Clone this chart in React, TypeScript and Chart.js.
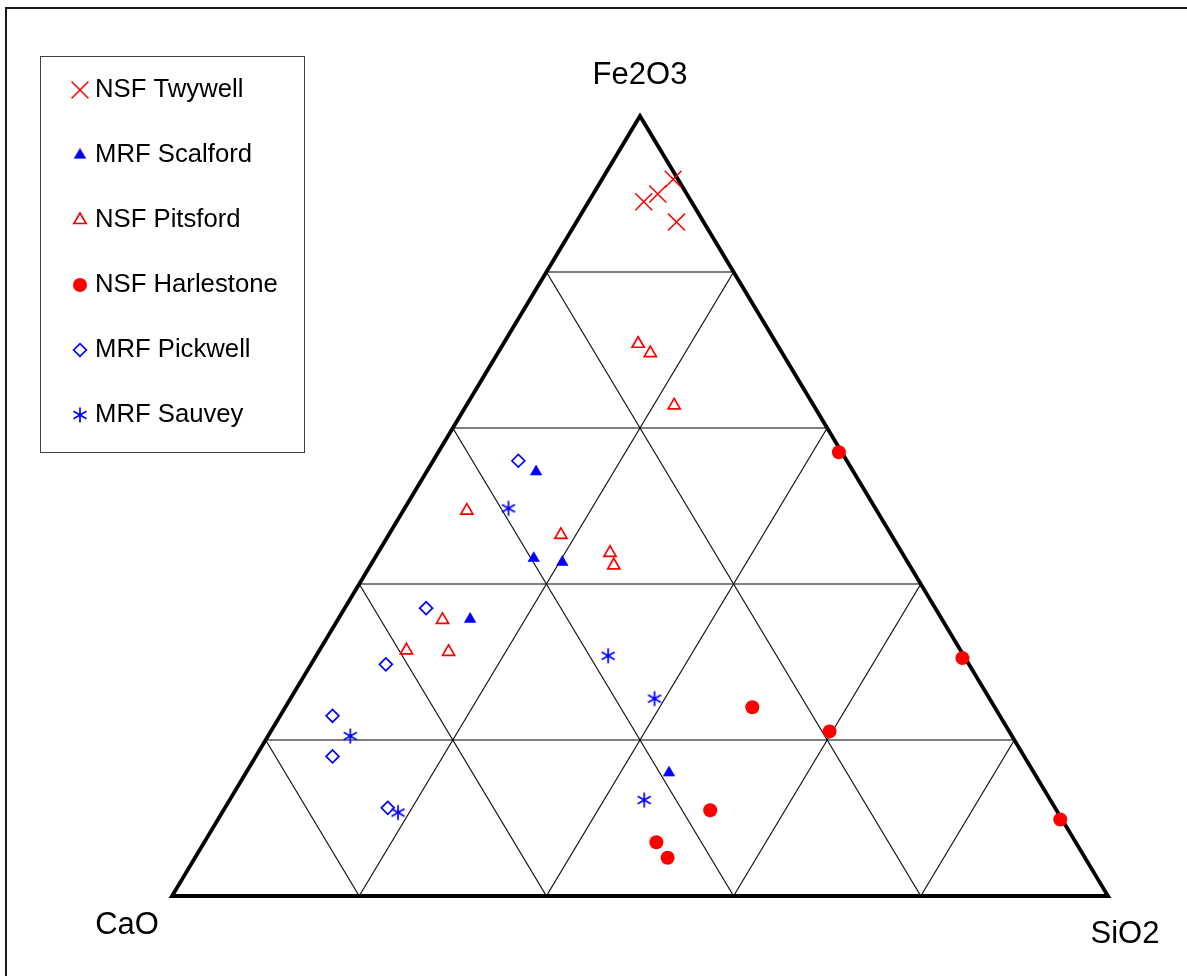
import React, { useEffect, useRef } from 'react';
import { Chart, registerables } from 'chart.js';
import { drawPoint } from 'chart.js/helpers';

Chart.register(...registerables);

// Apex labels: [left vertex, right vertex, top vertex]
const AXIS_LABELS = ['CaO', 'SiO2', 'Fe2O3'];
// Grid fractions for the ternary grid
const GRID_STEPS = [0.2, 0.4, 0.6, 0.8];

// Compositions in %, as [CaO, SiO2, Fe2O3]
const nsfTwywell = [
  [0.5, 7.6, 91.9],
  [3.1, 6.9, 90.0],
  [5.1, 5.9, 89.0],
  [2.9, 10.7, 86.4],
];
const mrfScalford = [
  [33.9, 11.7, 54.4],
  [39.7, 17.0, 43.3],
  [36.9, 20.3, 42.8],
  [50.4, 14.1, 35.5],
  [39.0, 45.2, 15.8],
];
const nsfPitsford = [
  [14.8, 14.4, 70.8],
  [14.1, 16.3, 69.6],
  [14.9, 22.2, 62.9],
  [43.8, 6.8, 49.4],
  [35.3, 18.4, 46.3],
  [31.2, 24.8, 44.0],
  [31.6, 26.0, 42.4],
  [53.4, 11.2, 35.4],
  [59.2, 9.3, 31.5],
  [54.8, 13.9, 31.3],
];
const nsfHarlestone = [
  [0.3, 42.8, 56.9],
  [0.3, 69.2, 30.5],
  [25.9, 49.9, 24.2],
  [19.2, 59.7, 21.1],
  [37.0, 52.0, 11.0],
  [44.8, 48.3, 6.9],
  [44.6, 50.5, 4.9],
  [0.2, 90.0, 9.8],
];
const mrfPickwell = [
  [35.1, 9.1, 55.8],
  [54.4, 8.7, 36.9],
  [62.3, 8.0, 29.7],
  [71.3, 5.6, 23.1],
  [73.9, 8.2, 17.9],
  [71.3, 17.4, 11.3],
];
const mrfSauvey = [
  [39.2, 11.1, 49.7],
  [38.0, 31.2, 30.8],
  [35.8, 38.9, 25.3],
  [70.7, 8.8, 20.5],
  [70.5, 18.8, 10.7],
  [43.4, 44.3, 12.3],
];

const SERIES_NAMES = [
  'NSF Twywell',
  'MRF Scalford',
  'NSF Pitsford',
  'NSF Harlestone',
  'MRF Pickwell',
  'MRF Sauvey',
];

const RED = '#ff0000';
const BLUE = '#0000ff';
const FONT = '"Liberation Sans", Arial, sans-serif';

// ternary fractions (c, s, f) -> cartesian in [0,1]
function toXY(c: number, s: number, f: number) {
  const sum = c + s + f;
  const S = s / sum;
  const F = f / sum;
  return { x: S + F / 2, y: F };
}

function makeAsterisk(color: string) {
  const cv = document.createElement('canvas');
  cv.width = 20;
  cv.height = 20;
  const ctx = cv.getContext('2d')!;
  ctx.strokeStyle = color;
  ctx.lineWidth = 1.7;
  const r = 7.5;
  const cx = 10;
  const cy = 10;
  ctx.beginPath();
  for (let k = 0; k < 3; k++) {
    const a = Math.PI / 2 + (k * Math.PI) / 3;
    ctx.moveTo(cx - Math.cos(a) * r, cy - Math.sin(a) * r);
    ctx.lineTo(cx + Math.cos(a) * r, cy + Math.sin(a) * r);
  }
  ctx.stroke();
  return cv;
}

export default function App() {
  const ref = useRef<HTMLCanvasElement | null>(null);

  useEffect(() => {
    if (!ref.current) return;
    const asterisk = makeAsterisk(BLUE);

    const pts = (arr: number[][]) => arr.map((p) => toXY(p[0], p[1], p[2]));

    const seriesDefs = [
      { data: nsfTwywell, pointStyle: 'crossRot', radius: 12, bg: 'rgba(0,0,0,0)', border: RED, bw: 1.5 },
      { data: mrfScalford, pointStyle: 'triangle', radius: 6.6, bg: BLUE, border: BLUE, bw: 0.6 },
      { data: nsfPitsford, pointStyle: 'triangle', radius: 7, bg: 'rgba(255,255,255,0)', border: RED, bw: 1.7 },
      { data: nsfHarlestone, pointStyle: 'circle', radius: 7, bg: RED, border: RED, bw: 0 },
      { data: mrfPickwell, pointStyle: 'rectRot', radius: 6.4, bg: 'rgba(255,255,255,0)', border: BLUE, bw: 1.7 },
      { data: mrfSauvey, pointStyle: asterisk as any, radius: 7.5, bg: BLUE, border: BLUE, bw: 1.5 },
    ];

    const markerSets: any[] = seriesDefs.map((d, i) => ({
      label: SERIES_NAMES[i],
      data: pts(d.data),
      showLine: false,
      pointStyle: d.pointStyle,
      pointRadius: d.radius,
      pointBackgroundColor: d.bg,
      pointBorderColor: d.border,
      pointBorderWidth: d.bw,
      clip: false,
      order: 0,
    }));

    // grid lines
    const gridSets: any[] = [];
    GRID_STEPS.forEach((g) => {
      // constant Fe2O3
      gridSets.push([toXY(1 - g, 0, g), toXY(0, 1 - g, g)]);
      // constant SiO2
      gridSets.push([toXY(1 - g, g, 0), toXY(0, g, 1 - g)]);
      // constant CaO
      gridSets.push([toXY(g, 1 - g, 0), toXY(g, 0, 1 - g)]);
    });
    const gridDatasets = gridSets.map((d) => ({
      label: '',
      data: d,
      showLine: true,
      borderColor: '#000000',
      borderWidth: 1.1,
      pointRadius: 0,
      clip: false,
      order: 2,
    }));

    const outline = [
      toXY(0.5, 0.5, 0),
      toXY(0, 1, 0),
      toXY(0, 0, 1),
      toXY(1, 0, 0),
      toXY(0.5, 0.5, 0),
    ];
    const outlineSet = {
      label: '',
      data: outline,
      showLine: true,
      borderColor: '#000000',
      borderWidth: 3.8,
      borderJoinStyle: 'miter',
      pointRadius: 0,
      clip: false,
      order: 1,
    };

    const decor = {
      id: 'decor',
      afterDraw(chart: any) {
        const ctx = chart.ctx as CanvasRenderingContext2D;
        const xs = chart.scales.x;
        const ys = chart.scales.y;
        ctx.save();
        // frame (top and left edges)
        ctx.strokeStyle = '#1a1a1a';
        ctx.lineWidth = 2;
        ctx.beginPath();
        ctx.moveTo(6, chart.height);
        ctx.lineTo(6, 8);
        ctx.lineTo(chart.width, 8);
        ctx.stroke();

        // vertex labels
        ctx.fillStyle = '#000';
        ctx.font = `31px ${FONT}`;
        ctx.textAlign = 'center';
        ctx.textBaseline = 'middle';
        const left = { x: xs.getPixelForValue(0), y: ys.getPixelForValue(0) };
        const right = { x: xs.getPixelForValue(1), y: ys.getPixelForValue(0) };
        const top = { x: xs.getPixelForValue(0.5), y: ys.getPixelForValue(1) };
        ctx.fillText(AXIS_LABELS[2], top.x, top.y - 41);
        ctx.fillText(AXIS_LABELS[0], left.x - 45, left.y + 29);
        ctx.fillText(AXIS_LABELS[1], right.x + 17, right.y + 38);

        // legend
        ctx.strokeStyle = '#404040';
        ctx.lineWidth = 1;
        ctx.strokeRect(40.5, 56.5, 264, 396);
        ctx.textAlign = 'left';
        ctx.textBaseline = 'alphabetic';
        ctx.font = `25.7px ${FONT}`;
        markerSets.forEach((ds, i) => {
          const cy = 90 + 65 * i;
          ctx.save();
          ctx.fillStyle = ds.pointBackgroundColor;
          ctx.strokeStyle = ds.pointBorderColor;
          ctx.lineWidth = ds.pointBorderWidth;
          drawPoint(ctx, {
            pointStyle: ds.pointStyle,
            radius: ds.pointRadius,
            rotation: 0,
            borderWidth: ds.pointBorderWidth,
          } as any, 80, cy);
          ctx.restore();
          ctx.fillStyle = '#000';
          ctx.fillText(ds.label, 95, 96.5 + 65 * i);
        });
        ctx.restore();
      },
    };

    const chart = new Chart(ref.current, {
      type: 'scatter',
      data: { datasets: [...markerSets, outlineSet, ...gridDatasets] as any },
      options: {
        responsive: false,
        animation: false,
        events: [],
        layout: { padding: { left: 172, right: 79, top: 116, bottom: 80 } },
        scales: {
          x: { type: 'linear', min: 0, max: 1, display: false },
          y: { type: 'linear', min: 0, max: 1, display: false },
        },
        plugins: {
          legend: { display: false },
          tooltip: { enabled: false },
        },
      },
      plugins: [decor],
    });
    return () => chart.destroy();
  }, []);

  return (
    <div style={{ position: 'absolute', left: 0, top: 0, width: 1187, height: 976, background: '#fff' }}>
      <canvas ref={ref} width={1187} height={976} />
    </div>
  );
}
